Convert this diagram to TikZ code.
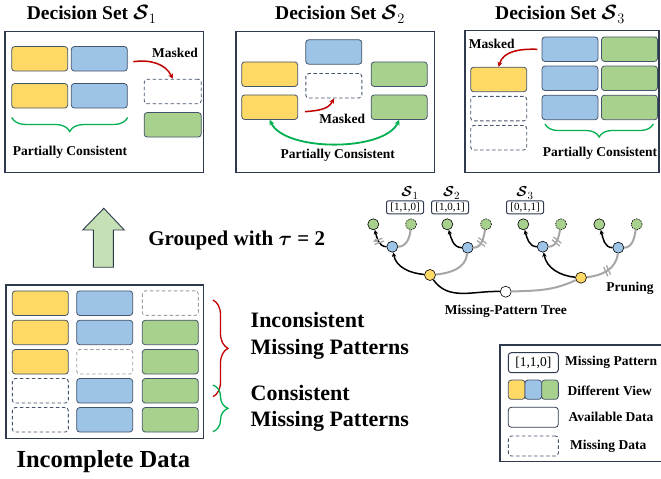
\documentclass[tikz,border=0pt]{standalone}
\usepackage{fontspec}
\setmainfont{Liberation Serif}
\usepackage{amsmath}
\usetikzlibrary{arrows.meta,decorations.pathreplacing,decorations.markings}
\definecolor{cY}{HTML}{FFD966}
\definecolor{cB}{HTML}{9DC3E6}
\definecolor{cG}{HTML}{A9D18E}
\definecolor{cEdge}{HTML}{44546A}
\definecolor{cFrame}{HTML}{2F3A4F}
\definecolor{cRed}{HTML}{C00000}
\definecolor{cGreenL}{HTML}{00B050}
\definecolor{cArrow}{HTML}{C5E0B4}
\definecolor{cGray}{HTML}{A6A6A6}
\begin{document}
\begin{tikzpicture}[x=1pt,y=1pt,
  cell/.style={rounded corners=3pt, draw=cEdge, line width=0.8pt, minimum width=56pt, minimum height=24.5pt, inner sep=0pt},
  yv/.style={cell, fill=cY},
  bv/.style={cell, fill=cB},
  gv/.style={cell, fill=cG},
  mv/.style={cell, fill=white, line width=0.9pt, dash pattern=on 3.5pt off 2.5pt},
  mvl/.style={mv, draw=gray!75},
  frame/.style={draw=cFrame, line width=1.2pt, inner sep=0pt},
  title/.style={font=\bfseries\fontsize{19.5}{23}\selectfont, inner sep=0pt, anchor=base},
  lbl/.style={font=\bfseries\fontsize{13.5}{16}\selectfont, inner sep=0pt},
  big/.style={font=\bfseries\fontsize{22}{26.6}\selectfont, inner sep=0pt, align=left},
  tn/.style={circle, draw=black, line width=0.6pt, minimum size=11pt, inner sep=0pt},
  tw/.style={tn, fill=white},
  ty/.style={tn, fill=cY},
  tb/.style={tn, fill=cB},
  tg/.style={tn, fill=cG},
  tgd/.style={tg, dash pattern=on 1.5pt off 1pt},
  be/.style={black, line width=1.5pt},
  bea/.style={be, -{Stealth[length=4.5pt,width=4.5pt]}},
  ge/.style={cGray, line width=2pt},
  prune/.style={postaction={decorate}, decoration={markings, mark=at position #1 with {\draw[cGray, line width=1.3pt] (-2.2pt,-5pt) -- (-0.6pt,5pt) (1.0pt,-5pt) -- (2.6pt,5pt);}}},
  pat/.style={draw=cFrame, rounded corners=2pt, line width=1pt, inner sep=0pt, minimum width=37pt, minimum height=13pt, font=\fontsize{11}{12}\selectfont},
  redarr/.style={cRed, line width=1.5pt, -{Stealth[length=5pt,width=5pt]}},
  grnarr/.style={cGreenL, line width=1.8pt, {Stealth[length=5.5pt,width=5.5pt]}-{Stealth[length=5.5pt,width=5.5pt]}},
  brc/.style={line width=1.3pt, decorate},
]
\useasboundingbox (0,0) rectangle (661,479);

% ---------------- Decision Set 1 ----------------
\node[title] (t1) at (91.7,459) {Decision Set $\boldsymbol{\mathcal{S}}_1$};
\node[frame, minimum width=198.3pt, minimum height=141pt] (f1) at (104.2,376.8) {};
\node[yv] (s1y1) at (39.7,420.2) {};
\node[bv] (s1b1) at (99.3,420.2) {};
\node[yv] (s1y2) at (39.7,383.2) {};
\node[bv] (s1b2) at (99.3,383.2) {};
\node[mv, minimum width=57pt] (s1d) at (172.7,387.5) {};
\node[gv, minimum width=57pt] (s1g) at (172.7,354.2) {};
\node[lbl] (s1m) at (175,426.3) {Masked};
\coordinate (s1from) at (133.3,417.3);
\draw[redarr] (s1from) to[out=8, in=115] (s1d.north);
\coordinate (s1bl) at (11.7,361.5);
\coordinate (s1br) at (127.7,361.5);
\draw[brc, cGreenL, decoration={brace, mirror, amplitude=14pt}] (s1bl) -- (s1br);
\node[lbl] (s1pc) at (70,326.3) {Partially Consistent};

% ---------------- Decision Set 2 ----------------
\node[title] (t2) at (340,459) {Decision Set $\boldsymbol{\mathcal{S}}_2$};
\node[frame, minimum width=198.3pt, minimum height=141pt] (f2) at (335.2,376.8) {};
\node[bv] (s2b) at (333.8,427) {};
\node[mv] (s2d) at (333.8,393.2) {};
\node[yv] (s2y1) at (269.7,404.8) {};
\node[yv] (s2y2) at (269.7,371.8) {};
\node[gv] (s2g1) at (399.2,404.8) {};
\node[gv] (s2g2) at (399.2,371.8) {};
\coordinate (s2from) at (305,367.3);
\draw[redarr] (s2from) to[out=5, in=-115] (s2d.south);
\node[lbl] (s2m) at (342.3,360) {Masked};
\draw[grnarr] (s2y2.south) to[out=-65, in=-115, looseness=0.7] (s2g2.south);
\node[lbl] (s2pc) at (337.7,323.3) {Partially Consistent};

% ---------------- Decision Set 3 ----------------
\node[title] (t3) at (560,459) {Decision Set $\boldsymbol{\mathcal{S}}_3$};
\node[frame, minimum width=194pt, minimum height=142pt] (f3) at (562,377.3) {};
\node[lbl] (s3m) at (491.7,434.7) {Masked};
\node[yv] (s3y) at (498.7,399.5) {};
\node[mv] (s3d1) at (498.7,370.3) {};
\node[mv] (s3d2) at (498.7,341.2) {};
\node[bv] (s3b1) at (570,429.8) {};
\node[bv] (s3b2) at (570,400.7) {};
\node[bv] (s3b3) at (570,371.5) {};
\node[gv] (s3g1) at (629.5,429.8) {};
\node[gv] (s3g2) at (629.5,400.7) {};
\node[gv] (s3g3) at (629.5,371.5) {};
\coordinate (s3from) at (537.3,429.7);
\draw[redarr] (s3from) to[out=178, in=75] (s3y.north);
\coordinate (s3bl) at (545,355);
\coordinate (s3br) at (653.3,355);
\draw[brc, cGreenL, decoration={brace, mirror, amplitude=13pt}] (s3bl) -- (s3br);
\node[lbl] (s3pc) at (600,325.7) {Partially Consistent};

% ---------------- Grouped arrow ----------------
\draw[draw=cFrame, line width=0.9pt, fill=cArrow, line join=miter]
  (93.3,211.7) -- (113.3,211.7) -- (113.3,249) -- (124.3,249) -- (103.8,270.7)
  -- (82.7,249) -- (93.3,249) -- cycle;
\node[font=\bfseries\fontsize{21}{25}\selectfont, inner sep=0pt] (grp) at (236.7,239) {Grouped with $\boldsymbol{\tau}$ = 2};

% ---------------- Incomplete data ----------------
\node[frame, minimum width=197.3pt, minimum height=153.3pt] (fi) at (104.7,117.4) {};
\node[yv] (i11) at (40.3,175.8) {};
\node[bv] (i12) at (104.7,175.8) {};
\node[mvl] (i13) at (170.3,175.8) {};
\node[yv] (i21) at (40.3,146.5) {};
\node[bv] (i22) at (104.7,146.5) {};
\node[gv] (i23) at (170.3,146.5) {};
\node[yv] (i31) at (40.3,117.2) {};
\node[mvl] (i32) at (104.7,117.2) {};
\node[gv] (i33) at (170.3,117.2) {};
\node[mv] (i41) at (40.3,88.2) {};
\node[bv] (i42) at (104.7,88.2) {};
\node[gv] (i43) at (170.3,88.2) {};
\node[mv] (i51) at (40.3,59.2) {};
\node[bv] (i52) at (104.7,59.2) {};
\node[gv] (i53) at (170.3,59.2) {};
\node[font=\bfseries\fontsize{24.5}{29}\selectfont, inner sep=0pt] (inc) at (103.3,17.3) {Incomplete Data};
\coordinate (rb1) at (213,179);
\coordinate (rb2) at (213,82.3);
\draw[brc, cRed, decoration={brace, amplitude=15pt}] (rb1) -- (rb2);
\coordinate (gb1) at (213,94);
\coordinate (gb2) at (213,47.3);
\draw[brc, cGreenL, decoration={brace, amplitude=15pt}] (gb1) -- (gb2);
\node[big, anchor=west] (incons) at (250.5,143) {Inconsistent\\Missing Patterns};
\node[big, anchor=west] (cons) at (250.5,70.7) {Consistent\\Missing Patterns};

% ---------------- Missing-pattern tree ----------------
\node[tw] (root) at (505.7,187.3) {};
\node[ty] (yl) at (430,204) {};
\node[ty] (yr) at (581,201.3) {};
\node[tb] (b1) at (392.3,232.3) {};
\node[tb] (b2) at (467.7,231.3) {};
\node[tb] (b3) at (542.7,232.3) {};
\node[tb] (b4) at (618.3,231.3) {};
\node[tg] (g1) at (373.3,254.7) {};
\node[tgd] (g2) at (411,254.7) {};
\node[tg] (g3) at (447.3,254.7) {};
\node[tgd] (g4) at (486,254.7) {};
\node[tg] (g5) at (523.3,254.7) {};
\node[tgd] (g6) at (561,254.7) {};
\node[tg] (g7) at (599.3,254.7) {};
\node[tgd] (g8) at (636.7,254.7) {};

\draw[be] (root) to[out=178, in=-55] (yl);
\draw[ge] (root) to[out=2, in=-155] (yr);
\draw[bea] (yl) to[out=175, in=-80] (b1);
\draw[ge] (yl) to[out=5, in=-95] (b2);
\draw[bea, prune=0.45] (b1) to[out=180, in=-75] (g1);
\draw[ge] (b1) to[out=0, in=-95] (g2);
\draw[bea] (b2) to[out=180, in=-75] (g3);
\draw[ge, prune=0.45] (b2) to[out=0, in=-100] (g4);
\draw[bea] (yr) to[out=175, in=-80] (b3);
\draw[ge, prune=0.5] (yr) to[out=5, in=-95] (b4);
\draw[bea] (b3) to[out=180, in=-75] (g5);
\draw[ge, prune=0.45] (b3) to[out=0, in=-100] (g6);
\draw[bea] (b4) to[out=180, in=-75] (g7);
\draw[ge] (b4) to[out=0, in=-100] (g8);

\node[pat] (p1) at (405,271.7) {[1,1,0]};
\node[pat] (p2) at (450,271.7) {[1,0,1]};
\node[pat] (p3) at (525,271.7) {[0,1,1]};
\node[inner sep=0pt, font=\fontsize{15}{18}\selectfont] (l1) at (410,286) {$\boldsymbol{\mathcal{S}}_1$};
\node[inner sep=0pt, font=\fontsize{15}{18}\selectfont] (l2) at (451.7,286) {$\boldsymbol{\mathcal{S}}_2$};
\node[inner sep=0pt, font=\fontsize{15}{18}\selectfont] (l3) at (525,286) {$\boldsymbol{\mathcal{S}}_3$};
\node[lbl] (prn) at (630,190.7) {Pruning};
\node[lbl] (mpt) at (505.8,167.3) {Missing-Pattern Tree};

% ---------------- Legend ----------------
\node[frame, minimum width=164pt, minimum height=116.7pt] (leg) at (582,75.7) {};
\node[pat, minimum width=50pt, minimum height=20pt, rounded corners=3pt, font=\fontsize{13.5}{15}\selectfont] (lp) at (533.3,116.3) {[1,1,0]};
\node[lbl, anchor=west] (lpt) at (565,116.3) {Missing Pattern};
\node[cell, fill=cY, minimum width=16.7pt, minimum height=19.3pt] (lc1) at (516.65,89.3) {};
\node[cell, fill=cB, minimum width=16.7pt, minimum height=19.3pt] (lc2) at (533.35,89.3) {};
\node[cell, fill=cG, minimum width=16.7pt, minimum height=19.3pt] (lc3) at (550,89.3) {};
\node[lbl, anchor=west] (lct) at (567.3,88.3) {Different View};
\node[cell, fill=white, draw=cFrame, minimum width=50pt, minimum height=20pt] (la) at (533.3,61.7) {};
\node[lbl, anchor=west] (lat) at (568.3,61.7) {Available Data};
\node[mv, minimum width=50pt, minimum height=20pt] (lm) at (533.3,33) {};
\node[lbl, anchor=west] (lmt) at (570,33) {Missing Data};
\end{tikzpicture}
\end{document}
